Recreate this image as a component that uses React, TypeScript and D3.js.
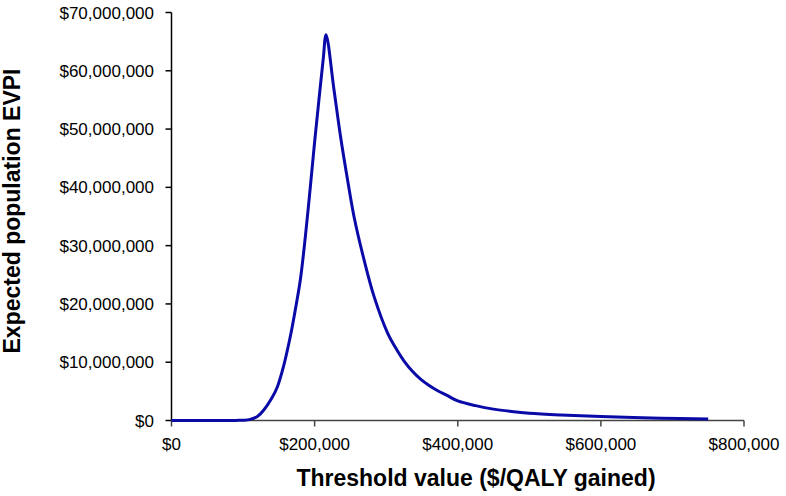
import React from "react";
import * as d3 from "d3";

const thresholds = [0, 50000, 90000, 100000, 110000, 120000, 129000, 140000, 148000, 157000, 166000, 173000, 180000, 187000, 194000, 200000, 206000, 212000, 216000, 227000, 236000, 246000, 255000, 269000, 283000, 302000, 315000, 325000, 337000, 348000, 360000, 372000, 385000, 400000, 425000, 450000, 475000, 500000, 544000, 600000, 684000, 750000];
const evpi = [0, 0, 20000, 50000, 200000, 700000, 1800000, 3800000, 5800000, 9500000, 14400000, 19000000, 24100000, 31500000, 40100000, 47800000, 55000000, 62000000, 66200000, 56800000, 48900000, 41300000, 35000000, 27600000, 21300000, 15000000, 12100000, 10200000, 8400000, 7100000, 6000000, 5100000, 4300000, 3350000, 2550000, 1950000, 1550000, 1250000, 950000, 680000, 400000, 250000];
const xTicks = [0, 200000, 400000, 600000, 800000];
const yTicks = [0, 10000000, 20000000, 30000000, 40000000, 50000000, 60000000, 70000000];

export default function App() {
  const x = d3.scaleLinear().domain([0, 800000]).range([171.5, 744]);
  const y = d3.scaleLinear().domain([0, 70000000]).range([420.5, 12.5]);
  const fmt = d3.format("$,.0f");
  const line = d3
    .line<number>()
    .x((_, i) => x(thresholds[i]))
    .y((d) => y(d))
    .curve(d3.curveCatmullRom.alpha(0.5));
  const path = line(evpi) || "";
  const font = "'Liberation Sans', Arial, sans-serif";
  return (
    <svg width={786} height={496} style={{ position: "absolute", left: 0, top: 0, background: "#fff" }} fontFamily={font}>
      <rect width={786} height={496} fill="#fff" />
      <line x1={171.5} x2={171.5} y1={y(70000000)} y2={y(0)} stroke="#000" strokeWidth={1.5} />
      {yTicks.map((t) => (
        <g key={t}>
          <line x1={165.5} x2={171.5} y1={y(t)} y2={y(t)} stroke="#000" strokeWidth={1.5} />
          <text x={154} y={y(t)} dy="0.36em" textAnchor="end" fontSize={17} fill="#000">
            {fmt(t)}
          </text>
        </g>
      ))}
      <line x1={x(0)} x2={x(800000)} y1={420.5} y2={420.5} stroke="#444" strokeWidth={1.5} />
      {xTicks.map((t) => (
        <g key={t}>
          <line x1={x(t)} x2={x(t)} y1={420.5} y2={426.5} stroke="#444" strokeWidth={1.5} />
          <text x={x(t)} y={450} textAnchor="middle" fontSize={17} fill="#000">
            {fmt(t)}
          </text>
        </g>
      ))}
      <path d={path} fill="none" stroke="#0a0aa8" strokeWidth={3} strokeLinejoin="round" />
      <text x={476} y={486} textAnchor="middle" fontSize={23} fontWeight="bold" fill="#000">
        Threshold value ($/QALY gained)
      </text>
      <text transform="translate(19.5,211) rotate(-90)" textAnchor="middle" fontSize={23} fontWeight="bold" fill="#000">
        Expected population EVPI
      </text>
    </svg>
  );
}
